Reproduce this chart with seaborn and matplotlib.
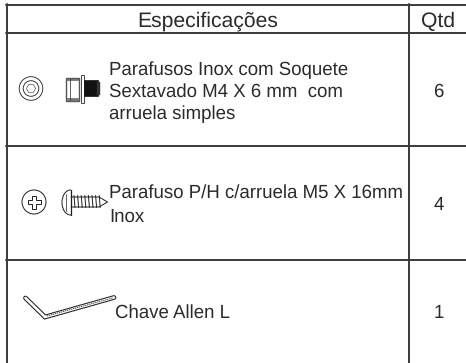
import numpy as np
import pandas as pd
import matplotlib
matplotlib.use("Agg")
import matplotlib.pyplot as plt
from matplotlib.patches import Circle, Polygon, Rectangle, Ellipse
import seaborn as sns

headers = ["Especificações", "Qtd"]
spec_lines = [
    ["Parafusos Inox com Soquete", "Sextavado M4 X 6 mm  com", "arruela simples"],
    ["Parafuso P/H c/arruela M5 X 16mm", "Inox"],
    ["Chave Allen L"],
]
quantities = ["6", "4", "1"]

INK = "#1e1e1e"
TXT = "#2b2b2b"

sns.set_theme(style="white")
plt.rcParams["font.family"] = ["Liberation Sans", "DejaVu Sans"]
plt.rcParams["text.hinting"] = "no_hinting"

fig = plt.figure(figsize=(4.66, 3.63), dpi=100, facecolor="white")
ax = fig.add_axes([0, 0, 1, 1])
ax.set_xlim(0, 466)
ax.set_ylim(363, 0)
ax.axis("off")
sns.despine(ax=ax, left=True, bottom=True)

# table rules
h_rule_y = [4.5, 33, 146, 260]
v_rule_x = [6.5, 408.5]
for y in h_rule_y:
    sns.lineplot(x=[6, 466], y=[y, y], ax=ax, color="#3a3a3a", lw=1.4, legend=False,
                 estimator=None, sort=False)
for x in v_rule_x:
    sns.lineplot(x=[x, x], y=[4, 363], ax=ax, color="#3a3a3a", lw=1.4, legend=False,
                 estimator=None, sort=False, orient="y")

# text
ax.text(208, 27, headers[0], fontsize=15.2, color=TXT, ha="center", va="baseline")
ax.text(438.5, 27, headers[1], fontsize=15.2, color=TXT, ha="center", va="baseline")

row_baselines = [[75, 97, 119], [198, 222], [318]]
row_x = [109, 109, 115]
for lines, bases, x in zip(spec_lines, row_baselines, row_x):
    for line, b in zip(lines, bases):
        ax.text(x, b, line, fontsize=13.4, color=TXT, ha="left", va="baseline")
for q, b in zip(quantities, [97, 210, 318]):
    ax.text(438.5, b, q, fontsize=13.4, color=TXT, ha="center", va="baseline")

# row 1 icons
ax.add_patch(Circle((31, 88.5), 11.8, fc="white", ec=INK, lw=0.6))
ax.add_patch(Circle((31, 88.5), 7.8, fc="white", ec=INK, lw=0.6))
ang = np.deg2rad(np.arange(0, 360, 60))
ax.add_patch(Polygon(np.c_[31 + 4.6 * np.cos(ang), 88.5 + 4.6 * np.sin(ang)], fc="white", ec="#555555", lw=0.5))

ax.add_patch(Rectangle((66, 77.5), 13, 23, fc="white", ec="#555555", lw=1.0))
ax.add_patch(Rectangle((66, 77.5), 12, 2.5, fc="#777777", ec="#555555", lw=0.4))
ax.add_patch(Rectangle((66, 98), 12, 2.5, fc="#777777", ec="#555555", lw=0.4))
ax.plot([70, 70], [78, 100], color="#444444", lw=0.6)
ax.add_patch(Rectangle((80.5, 74.5), 3.2, 28, fc="white", ec="#444444", lw=0.7))
ax.add_patch(Rectangle((84, 80), 14, 16, fc="#111111", ec="#111111", lw=0.5))
ax.add_patch(Rectangle((97, 81.5), 2.5, 13, fc="#333333", ec="#333333", lw=0.3))

# row 2 icons
ax.add_patch(Circle((34, 202), 12, fc="white", ec=INK, lw=0.7))
cx, cy, a, b = 34, 202, 6.5, 2.3
cross_x = [cx-b, cx+b, cx+b, cx+a, cx+a, cx+b, cx+b, cx-b, cx-b, cx-a, cx-a, cx-b]
cross_y = [cy-a, cy-a, cy-b, cy-b, cy+b, cy+b, cy+a, cy+a, cy+b, cy+b, cy-b, cy-b]
ax.add_patch(Polygon(np.c_[cross_x, cross_y], fc="white", ec=INK, lw=0.7))

ax.add_patch(Ellipse((70.5, 202.5), 17, 25, fc="white", ec=INK, lw=0.7))
ax.add_patch(Rectangle((71, 188), 12, 30, fc="white", ec="none", zorder=3))
ax.plot([71, 71], [190, 215], color=INK, lw=0.9, zorder=4)
ax.plot([65.5, 65.5], [194, 211], color=INK, lw=0.5, zorder=4)
ax.plot([71, 99, 107.5, 99, 71], [197, 197, 202, 207, 207], color=INK, lw=0.7, zorder=4)
for tx in np.arange(74, 100, 3.6):
    ax.plot([tx, tx + 1], [195.5, 207.5], color=INK, lw=0.7, zorder=4)

# row 3 icon: L key
kx = [25.5, 45, 114]
ky = [298, 317, 297.5]
ax.plot(kx, ky, color=INK, lw=3.4, solid_capstyle="round", solid_joinstyle="miter")
ax.plot(kx, ky, color="white", lw=1.9, solid_capstyle="round", solid_joinstyle="miter")
ax.plot([47, 113], [316, 297.8], color=INK, lw=0.6, ls=(0, (1.5, 1)))

fig.savefig("out.png", dpi=100, facecolor="white")
